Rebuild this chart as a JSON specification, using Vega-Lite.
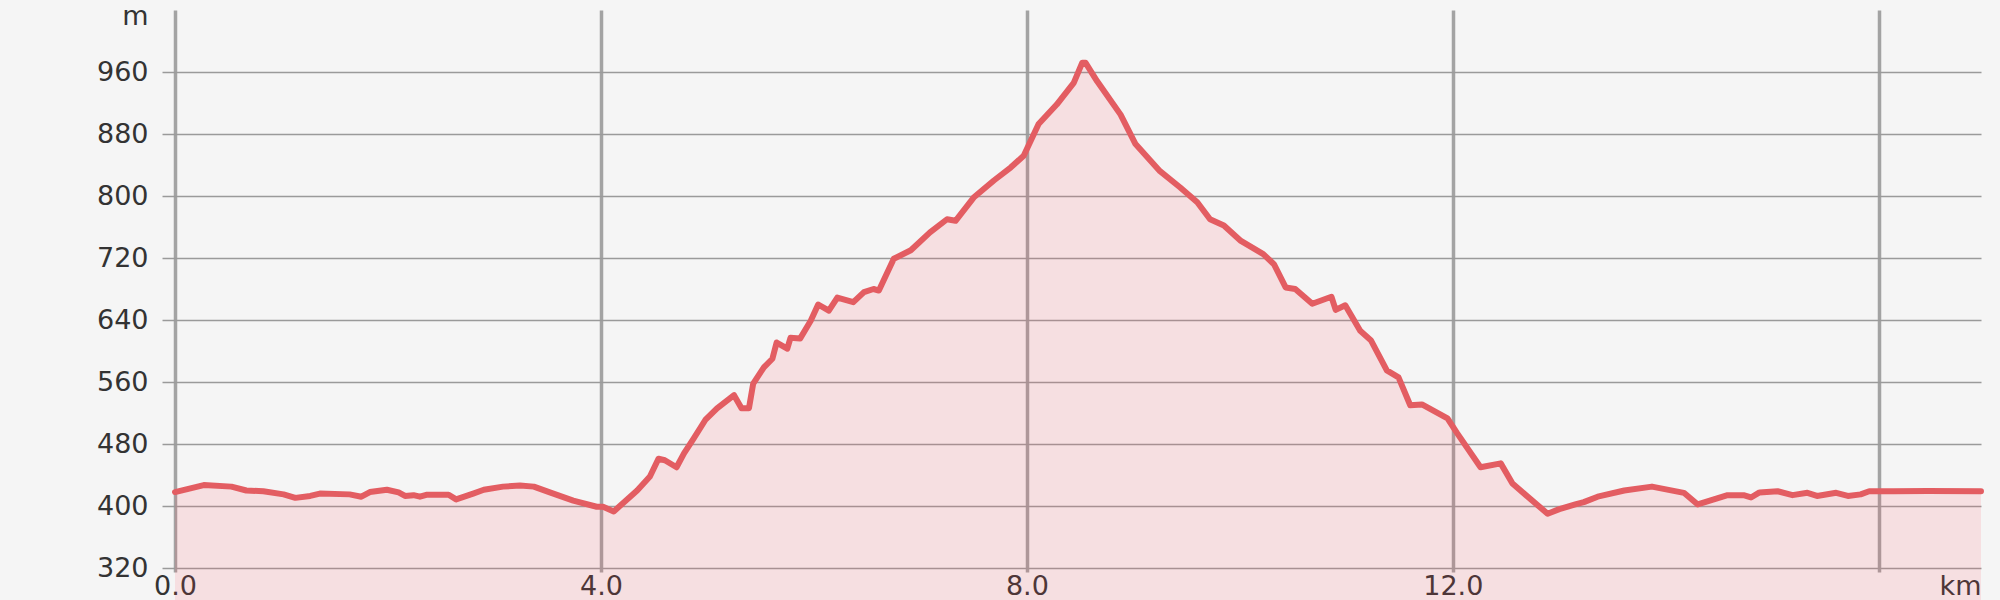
{
  "$schema": "https://vega.github.io/schema/vega-lite/v6.json",
  "width": 1806,
  "height": 558,
  "autosize": {"type": "none"},
  "padding": {"left": 175, "top": 10, "right": 19, "bottom": 32},
  "background": "#f5f5f5",
  "config": {"view": {"stroke": null}},
  "data": {"values": [
    {"km": 0.00, "m": 418}, {"km": 0.27, "m": 427}, {"km": 0.53, "m": 425}, {"km": 0.67, "m": 420},
    {"km": 0.83, "m": 419}, {"km": 1.02, "m": 415}, {"km": 1.13, "m": 410.5}, {"km": 1.27, "m": 413},
    {"km": 1.36, "m": 416}, {"km": 1.64, "m": 415}, {"km": 1.75, "m": 412}, {"km": 1.83, "m": 418},
    {"km": 1.99, "m": 421}, {"km": 2.10, "m": 417.5}, {"km": 2.16, "m": 413}, {"km": 2.24, "m": 414},
    {"km": 2.30, "m": 412}, {"km": 2.36, "m": 414.5}, {"km": 2.57, "m": 414.5}, {"km": 2.64, "m": 408.5},
    {"km": 2.80, "m": 416}, {"km": 2.90, "m": 421}, {"km": 3.08, "m": 425}, {"km": 3.24, "m": 426.5},
    {"km": 3.37, "m": 425}, {"km": 3.52, "m": 417.5}, {"km": 3.74, "m": 407}, {"km": 3.96, "m": 399},
    {"km": 4.02, "m": 399}, {"km": 4.12, "m": 393}, {"km": 4.34, "m": 420}, {"km": 4.46, "m": 438},
    {"km": 4.54, "m": 461}, {"km": 4.60, "m": 459}, {"km": 4.71, "m": 450}, {"km": 4.78, "m": 468},
    {"km": 4.87, "m": 487}, {"km": 4.98, "m": 511}, {"km": 5.09, "m": 526}, {"km": 5.25, "m": 543},
    {"km": 5.32, "m": 526}, {"km": 5.39, "m": 526}, {"km": 5.43, "m": 558}, {"km": 5.53, "m": 579},
    {"km": 5.61, "m": 590}, {"km": 5.65, "m": 611}, {"km": 5.70, "m": 607}, {"km": 5.75, "m": 603},
    {"km": 5.78, "m": 617}, {"km": 5.87, "m": 616}, {"km": 5.97, "m": 639}, {"km": 6.04, "m": 660},
    {"km": 6.14, "m": 652}, {"km": 6.22, "m": 669}, {"km": 6.37, "m": 663}, {"km": 6.47, "m": 676},
    {"km": 6.56, "m": 680}, {"km": 6.61, "m": 678}, {"km": 6.75, "m": 719}, {"km": 6.91, "m": 730},
    {"km": 7.09, "m": 753}, {"km": 7.25, "m": 770}, {"km": 7.33, "m": 768}, {"km": 7.50, "m": 798},
    {"km": 7.69, "m": 820}, {"km": 7.85, "m": 837}, {"km": 7.97, "m": 852}, {"km": 8.11, "m": 893},
    {"km": 8.28, "m": 918}, {"km": 8.44, "m": 946}, {"km": 8.52, "m": 972}, {"km": 8.55, "m": 972},
    {"km": 8.66, "m": 948}, {"km": 8.88, "m": 905}, {"km": 9.02, "m": 867}, {"km": 9.25, "m": 832},
    {"km": 9.44, "m": 811}, {"km": 9.60, "m": 792}, {"km": 9.72, "m": 770}, {"km": 9.85, "m": 762},
    {"km": 10.01, "m": 742}, {"km": 10.22, "m": 725}, {"km": 10.32, "m": 712}, {"km": 10.43, "m": 682},
    {"km": 10.52, "m": 680}, {"km": 10.68, "m": 661}, {"km": 10.86, "m": 670}, {"km": 10.90, "m": 653},
    {"km": 10.99, "m": 659}, {"km": 11.13, "m": 626}, {"km": 11.23, "m": 614}, {"km": 11.38, "m": 575},
    {"km": 11.49, "m": 566}, {"km": 11.60, "m": 530}, {"km": 11.71, "m": 531}, {"km": 11.95, "m": 513},
    {"km": 12.04, "m": 494}, {"km": 12.26, "m": 450}, {"km": 12.45, "m": 455}, {"km": 12.56, "m": 429},
    {"km": 12.89, "m": 390}, {"km": 13.00, "m": 396}, {"km": 13.15, "m": 402}, {"km": 13.23, "m": 405},
    {"km": 13.36, "m": 412}, {"km": 13.61, "m": 420}, {"km": 13.87, "m": 425}, {"km": 14.17, "m": 417},
    {"km": 14.30, "m": 402}, {"km": 14.58, "m": 414}, {"km": 14.73, "m": 414}, {"km": 14.80, "m": 411},
    {"km": 14.88, "m": 417.5}, {"km": 15.05, "m": 419}, {"km": 15.19, "m": 414}, {"km": 15.33, "m": 417},
    {"km": 15.42, "m": 413}, {"km": 15.60, "m": 417}, {"km": 15.71, "m": 413}, {"km": 15.83, "m": 415},
    {"km": 15.91, "m": 419}, {"km": 16.14, "m": 419}, {"km": 16.46, "m": 419.5}, {"km": 16.96, "m": 419}
  ]},
  "encoding": {
    "x": {
      "field": "km", "type": "quantitative",
      "scale": {"domain": [0, 16.96], "nice": false, "zero": false},
      "axis": {
        "title": null,
        "values": [0, 4, 8, 12, 16, 16.96],
        "domain": false,
        "grid": true,
        "gridColor": "#a3a3a3",
        "gridWidth": 3.5,
        "gridOpacity": {"condition": {"test": "datum.value > 16.5", "value": 0}, "value": 1},
        "tickColor": "#a3a3a3",
        "tickWidth": 3.5,
        "tickSize": 4,
        "tickOpacity": {"condition": {"test": "datum.value > 16.5", "value": 0}, "value": 1},
        "labelExpr": "datum.value > 16.5 ? 'km' : (datum.value == 16 ? '' : format(datum.value, '.1f'))",
        "labelAlign": {"condition": {"test": "datum.value > 16.5", "value": "right"}, "value": "center"},
        "labelFlush": false,
        "labelOverlap": false,
        "labelBound": false,
        "labelFont": "DejaVu Sans",
        "labelFontSize": 27,
        "labelColor": "#333333",
        "labelPadding": 1
      }
    },
    "y": {
      "field": "m", "type": "quantitative",
      "scale": {"domain": [320, 1040], "nice": false, "zero": false},
      "axis": {
        "title": null,
        "values": [320, 400, 480, 560, 640, 720, 800, 880, 960, 1040],
        "domain": false,
        "grid": true,
        "gridColor": "#9a9a9a",
        "gridWidth": 1.5,
        "gridOpacity": {"condition": {"test": "datum.value >= 1040", "value": 0}, "value": 1},
        "tickColor": "#9a9a9a",
        "tickWidth": 1.5,
        "tickSize": 13,
        "tickOpacity": {"condition": {"test": "datum.value >= 1040", "value": 0}, "value": 1},
        "labelExpr": "datum.value >= 1040 ? 'm' : format(datum.value, 'd')",
        "labelOffset": {"condition": {"test": "datum.value >= 1040", "value": 6}, "value": 0},
        "labelOverlap": false,
        "labelBound": false,
        "labelFont": "DejaVu Sans",
        "labelFontSize": 27,
        "labelColor": "#333333",
        "labelPadding": 14
      }
    }
  },
  "layer": [
    {"mark": {"type": "area", "color": "#ff4d5e", "opacity": 0.13}},
    {"mark": {"type": "line", "color": "#e35d62", "strokeWidth": 6, "strokeJoin": "round", "strokeCap": "round"}}
  ]
}
